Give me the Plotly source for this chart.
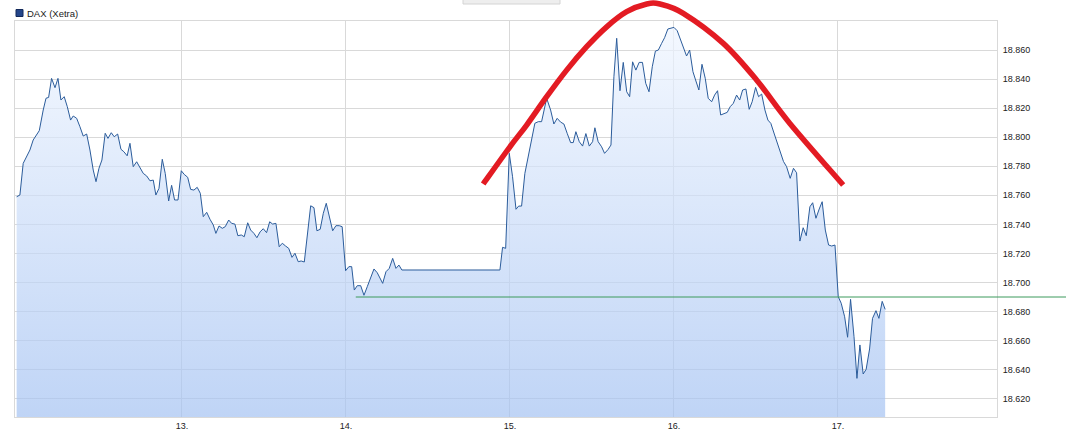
import plotly.graph_objects as go

# ---------------- data ----------------
X_RANGE = [11.982, 17.970]
Y_RANGE = [18607.4, 18880.0]

x_tick_vals = [13, 14, 15, 16, 17]
x_tick_text = ["13.", "14.", "15.", "16.", "17."]
y_tick_vals = [18620, 18640, 18660, 18680, 18700, 18720, 18740,
               18760, 18780, 18800, 18820, 18840, 18860]

series_name = "DAX (Xetra)"

day = [
    11.992, 12.012, 12.032, 12.053, 12.073, 12.093, 12.114, 12.130, 12.154, 12.171,
    12.187, 12.205, 12.226, 12.244, 12.262, 12.282, 12.301, 12.321, 12.337, 12.358,
    12.378, 12.398, 12.419, 12.439, 12.459, 12.476, 12.494, 12.512, 12.532, 12.549,
    12.569, 12.587, 12.608, 12.628, 12.646, 12.666, 12.683, 12.703, 12.724, 12.744,
    12.764, 12.785, 12.805, 12.825, 12.841, 12.860, 12.880, 12.898, 12.919, 12.937,
    12.955, 12.976, 12.996, 13.014, 13.035, 13.053, 13.073, 13.093, 13.112, 13.130,
    13.151, 13.171, 13.191, 13.207, 13.226, 13.246, 13.264, 13.285, 13.303, 13.323,
    13.341, 13.362, 13.380, 13.401, 13.419, 13.439, 13.457, 13.477, 13.496, 13.516,
    13.535, 13.553, 13.573, 13.593, 13.612, 13.632, 13.651, 13.671, 13.689, 13.709,
    13.727, 13.746, 13.785, 13.805, 13.823, 13.843, 13.862, 13.880, 13.901, 13.919,
    13.939, 13.959, 13.977, 13.998, 14.018, 14.035, 14.051, 14.069, 14.090, 14.110,
    14.130, 14.151, 14.171, 14.191, 14.207, 14.224, 14.244, 14.264, 14.285, 14.305,
    14.323, 14.341, 14.939, 14.955, 14.974, 14.996, 15.016, 15.037, 15.053, 15.071,
    15.091, 15.111, 15.132, 15.152, 15.173, 15.193, 15.224, 15.248, 15.268, 15.288,
    15.309, 15.329, 15.349, 15.370, 15.386, 15.402, 15.423, 15.443, 15.463, 15.484,
    15.504, 15.518, 15.538, 15.559, 15.577, 15.598, 15.616, 15.634, 15.651, 15.671,
    15.691, 15.712, 15.730, 15.748, 15.768, 15.788, 15.808, 15.828, 15.848, 15.868,
    15.887, 15.905, 15.925, 15.943, 15.963, 15.982, 16.000, 16.020, 16.038, 16.057,
    16.077, 16.096, 16.116, 16.134, 16.152, 16.171, 16.191, 16.209, 16.230, 16.248,
    16.266, 16.285, 16.305, 16.325, 16.343, 16.362, 16.382, 16.401, 16.419, 16.439,
    16.459, 16.477, 16.498, 16.516, 16.535, 16.555, 16.573, 16.591, 16.612, 16.630,
    16.648, 16.668, 16.687, 16.709, 16.729, 16.748, 16.768, 16.788, 16.807, 16.829,
    16.846, 16.866, 16.886, 16.904, 16.923, 16.943, 16.962, 16.982, 17.002, 17.020,
    17.041, 17.059, 17.077, 17.098, 17.116, 17.134, 17.154, 17.172, 17.193, 17.211,
    17.232, 17.250, 17.270, 17.288,
]

dax = [
    18759.0, 18760.2, 18782.0, 18786.6, 18791.2, 18798.1, 18801.5, 18804.5, 18818.7, 18826.8,
    18827.4, 18840.5, 18834.1, 18840.5, 18825.6, 18827.9, 18821.0, 18811.8, 18814.6, 18813.0,
    18807.2, 18800.8, 18802.2, 18791.2, 18777.4, 18769.4, 18778.6, 18784.3, 18802.7, 18799.2,
    18803.1, 18800.3, 18802.2, 18791.7, 18790.0, 18787.2, 18795.8, 18779.7, 18783.1, 18778.6,
    18775.1, 18773.3, 18770.0, 18770.5, 18760.2, 18764.8, 18784.8, 18775.1, 18756.1, 18766.9,
    18756.8, 18756.8, 18776.9, 18774.4, 18772.4, 18764.1, 18763.6, 18765.5, 18761.4, 18745.3,
    18748.3, 18743.5, 18739.6, 18733.8, 18738.9, 18737.3, 18738.4, 18743.0, 18740.7, 18740.2,
    18732.2, 18732.7, 18731.5, 18741.1, 18736.1, 18733.8, 18730.8, 18734.9, 18737.0, 18734.3,
    18741.8, 18740.2, 18740.7, 18724.6, 18727.0, 18725.1, 18723.5, 18717.3, 18720.1, 18714.3,
    18714.8, 18714.1, 18752.8, 18751.5, 18735.6, 18736.6, 18747.6, 18754.5, 18743.0, 18735.6,
    18739.1, 18739.1, 18738.4, 18708.1, 18710.9, 18710.9, 18694.8, 18697.8, 18697.8, 18691.2,
    18697.1, 18704.0, 18709.3, 18706.7, 18702.9, 18699.4, 18707.4, 18709.7, 18716.6, 18709.7,
    18712.0, 18708.6, 18708.6, 18724.2, 18723.5, 18788.9, 18772.8, 18750.4, 18752.6, 18752.6,
    18775.1, 18786.6, 18798.1, 18809.6, 18810.7, 18810.7, 18826.8, 18818.7, 18809.1, 18813.0,
    18810.4, 18809.1, 18802.7, 18796.3, 18796.3, 18803.8, 18796.9, 18793.9, 18802.5, 18793.9,
    18796.9, 18806.5, 18796.9, 18793.4, 18788.9, 18791.5, 18794.6, 18841.6, 18868.1, 18832.0,
    18851.5, 18831.3, 18827.9, 18851.9, 18846.2, 18851.5, 18851.5, 18837.1, 18831.3, 18848.5,
    18859.3, 18860.0, 18864.6, 18868.5, 18874.5, 18874.9, 18875.6, 18873.3, 18867.6, 18862.3,
    18855.9, 18860.0, 18845.1, 18838.7, 18832.5, 18850.2, 18840.5, 18826.8, 18824.4, 18829.0,
    18832.0, 18815.3, 18816.0, 18817.1, 18821.0, 18823.3, 18829.0, 18825.6, 18832.5, 18833.2,
    18819.2, 18824.4, 18834.3, 18827.9, 18829.7, 18818.7, 18811.8, 18809.5, 18802.2, 18795.8,
    18790.0, 18783.3, 18779.7, 18771.7, 18778.6, 18775.5, 18728.5, 18737.7, 18732.2, 18752.1,
    18754.9, 18744.2, 18750.6, 18755.6, 18736.1, 18725.8, 18725.1, 18725.8, 18690.2, 18685.7,
    18676.4, 18662.3, 18688.4, 18662.7, 18634.0, 18657.0, 18637.0, 18640.2, 18654.2, 18675.3,
    18680.6, 18675.3, 18687.0, 18681.5,
]

# support line (green) and hand-drawn top arc (red), in chart units
support_level = 18690.0
support_start = 14.06

arc_day = [14.837, 15.000, 15.102, 15.224, 15.346, 15.468, 15.590, 15.712,
           15.834, 15.915, 16.057, 16.301, 16.504, 16.707, 17.032]
arc_val = [18767.8, 18793.4, 18808.4, 18827.9, 18846.2, 18862.3, 18876.0, 18886.4,
           18891.7, 18891.7, 18885.3, 18864.6, 18839.4, 18809.5, 18767.1]

# ---------------- styling ----------------
GRID = "#d9d9d9"
LINE = "#2b5c9b"
TEXT = "#222222"
FONT = "Liberation Sans, Arial, sans-serif"

W, H = 1066, 437
M = dict(l=15, r=69, t=21, b=20, pad=0)
PW = W - M["l"] - M["r"]
PH = H - M["t"] - M["b"]


def to_paper_x(v):
    return (v - X_RANGE[0]) / (X_RANGE[1] - X_RANGE[0])


def to_paper_y(v):
    return (v - Y_RANGE[0]) / (Y_RANGE[1] - Y_RANGE[0])


def px_x(p):  # page pixel -> paper (decoration only)
    return (p - M["l"]) / PW


def px_y(p):
    return (H - M["b"] - p) / PH


def smooth_path(xs, ys):
    pts = list(zip(xs, ys))
    d = "M %.5f,%.5f" % pts[0]
    n = len(pts)
    for i in range(n - 1):
        p0 = pts[i - 1] if i > 0 else pts[i]
        p1 = pts[i]
        p2 = pts[i + 1]
        p3 = pts[i + 2] if i + 2 < n else pts[i + 1]
        c1 = (p1[0] + (p2[0] - p0[0]) / 6, p1[1] + (p2[1] - p0[1]) / 6)
        c2 = (p2[0] - (p3[0] - p1[0]) / 6, p2[1] - (p3[1] - p1[1]) / 6)
        d += " C %.5f,%.5f %.5f,%.5f %.5f,%.5f" % (c1 + c2 + p2)
    return d


fig = go.Figure()
fig.add_trace(go.Scatter(
    x=day, y=dax, mode="lines", name=series_name,
    line=dict(color=LINE, width=1),
    fill="tozeroy",
    fillgradient=dict(
        type="vertical",
        colorscale=[[0, "rgba(164,194,242,0.7)"], [1, "rgba(240,246,255,0.7)"]],
        start=Y_RANGE[0], stop=Y_RANGE[1],
    ),
    showlegend=False, hoverinfo="skip",
))

shapes = []
# green support line, running past the right edge of the plot
shapes.append(dict(type="line", xref="paper", yref="y",
                   x0=to_paper_x(support_start), x1=1.09,
                   y0=support_level, y1=support_level,
                   line=dict(color="#3c9a5c", width=1), layer="above"))
# red arc
arc_px = [to_paper_x(v) for v in arc_day]
arc_py = [to_paper_y(v) for v in arc_val]
shapes.append(dict(type="path", xref="paper", yref="paper",
                   path=smooth_path(arc_px, arc_py),
                   line=dict(color="#e31b23", width=5.5), layer="above"))
# grey tab at top
shapes.append(dict(type="rect", xref="paper", yref="paper",
                   x0=px_x(463), x1=px_x(560), y0=px_y(4), y1=px_y(-4),
                   fillcolor="#eeeeee", line=dict(color="#d4d4d4", width=1)))
# legend swatch
shapes.append(dict(type="rect", xref="paper", yref="paper",
                   x0=px_x(16), x1=px_x(23), y0=px_y(16.5), y1=px_y(9.5),
                   fillcolor="#24468a", line=dict(color="#13295a", width=1)))

fig.update_layout(
    width=W, height=H, margin=M,
    paper_bgcolor="white", plot_bgcolor="white",
    font=dict(family=FONT, size=9, color=TEXT),
    shapes=shapes,
    separators=",.",
    annotations=[dict(xref="paper", yref="paper", x=px_x(25), y=px_y(13),
                      xanchor="left", yanchor="middle", showarrow=False,
                      text=series_name,
                      font=dict(family=FONT, size=9.5, color=TEXT))],
    xaxis=dict(range=X_RANGE, tickvals=x_tick_vals, ticktext=x_tick_text,
               showgrid=True, gridcolor=GRID, gridwidth=1,
               showline=True, mirror=True, linecolor=GRID, linewidth=1,
               ticks="", zeroline=False, fixedrange=True, automargin=False,
               tickfont=dict(size=9, color=TEXT)),
    yaxis=dict(range=Y_RANGE, tickvals=y_tick_vals, tickformat=",d",
               side="right", showgrid=True, gridcolor=GRID, gridwidth=1,
               showline=True, mirror=True, linecolor=GRID, linewidth=1,
               ticks="outside", ticklen=3, tickcolor="rgba(0,0,0,0)",
               zeroline=False, fixedrange=True, automargin=False,
               tickfont=dict(size=9, color=TEXT)),
)

fig.write_html(
    "out.html",
    config={"displayModeBar": False, "staticPlot": True},
    post_script="document.body.style.margin='0px';document.body.style.padding='0px';",
)
